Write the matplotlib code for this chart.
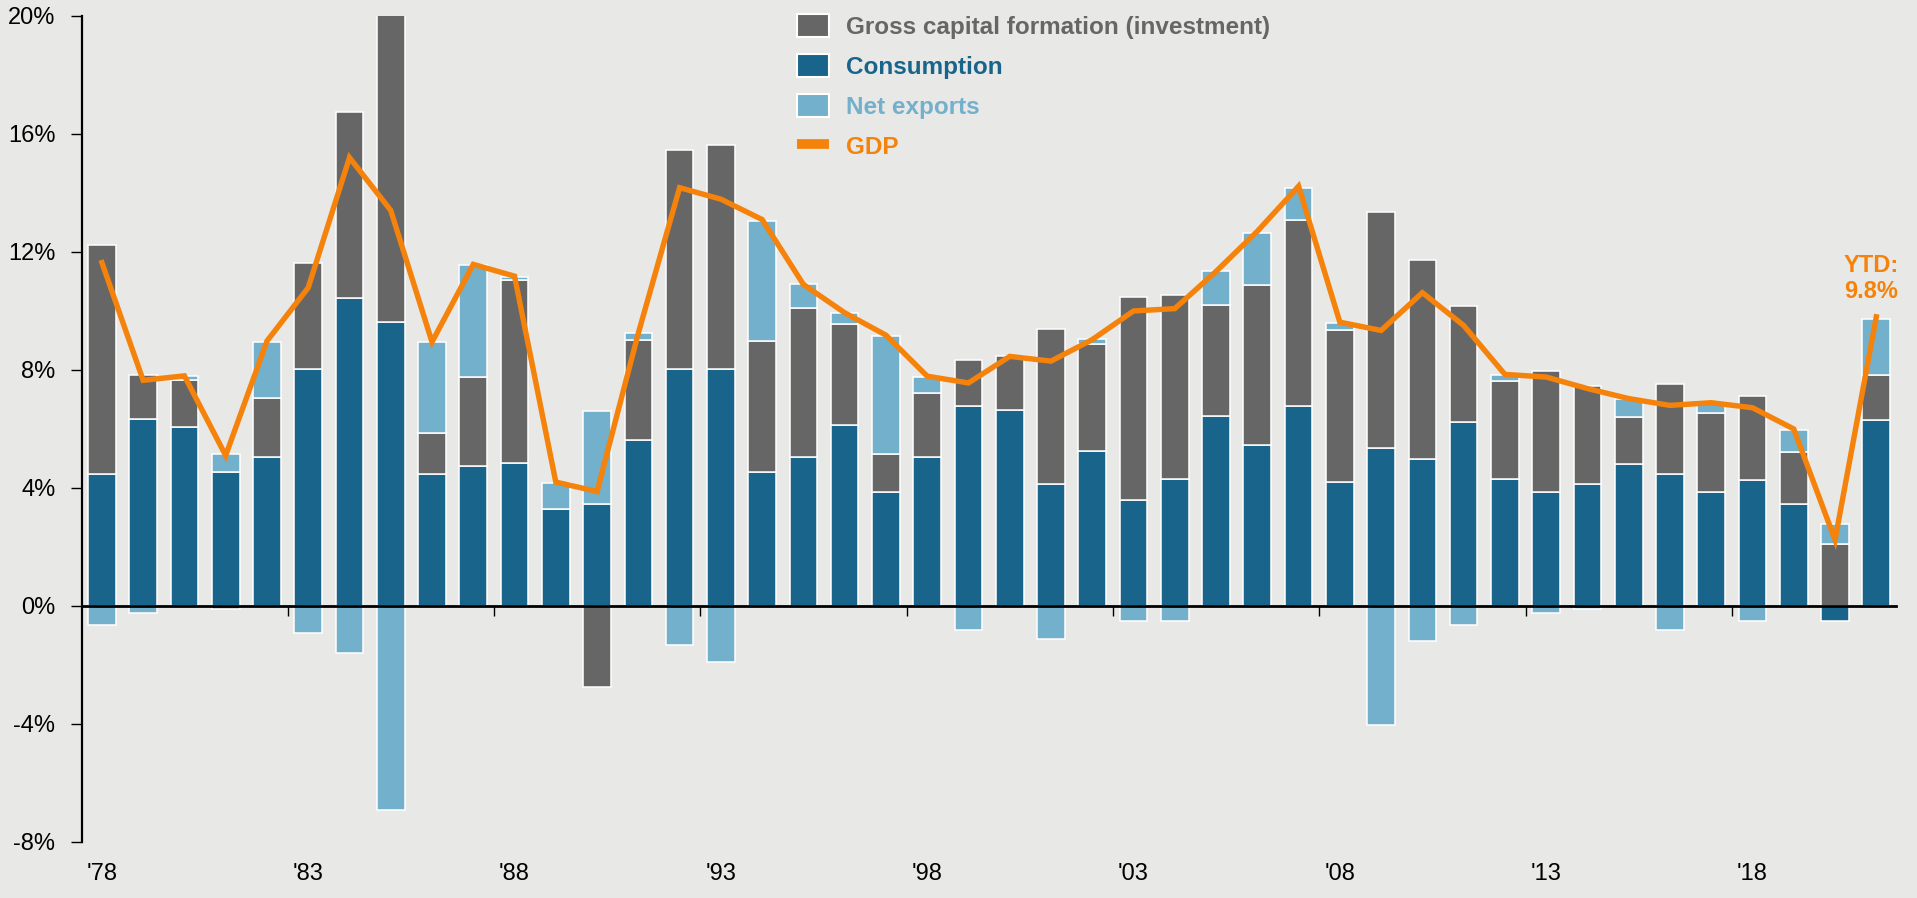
import matplotlib.pyplot as plt
import numpy as np
from matplotlib.patches import Patch
from matplotlib.lines import Line2D

years = list(range(1978, 2022))

# contributions to real GDP growth, percentage points
consumption = [4.46, 6.35, 6.07, 4.55, 5.06, 8.05, 10.45, 9.63, 4.46, 4.76,
               4.86, 3.28, 3.45, 5.64, 8.05, 8.05, 4.55, 5.06, 6.15, 3.85,
               5.04, 6.77, 6.63, 4.12, 5.25, 3.59, 4.29, 6.43, 5.44, 6.77,
               4.19, 5.36, 4.98, 6.24, 4.31, 3.85, 4.14, 4.81, 4.46, 3.85,
               4.26, 3.45, -0.51, 6.31]
investment = [7.77, 1.49, 1.58, -0.10, 2.00, 3.59, 6.30, 10.70, 1.40, 3.00,
              6.18, 0.00, -2.73, 3.39, 7.40, 7.59, 4.42, 5.04, 3.40, 1.30,
              2.19, 1.58, 1.83, 5.28, 3.64, 6.88, 6.26, 3.76, 5.44, 6.30,
              5.15, 8.01, 6.76, 3.92, 3.31, 4.12, 3.31, 1.60, 3.08, 2.70,
              2.86, 1.76, 2.10, 1.51]
net_exports = [-0.64, -0.23, 0.15, 0.60, 1.89, -0.90, -1.60, -6.92, 3.09, 3.79,
               0.11, 0.88, 3.15, 0.22, -1.32, -1.91, 4.08, 0.80, 0.39, 3.99,
               0.53, -0.81, -0.05, -1.13, 0.17, -0.51, -0.51, 1.15, 1.78, 1.10,
               0.25, -4.03, -1.18, -0.64, 0.20, -0.25, -0.10, 0.59, -0.81, 0.31,
               -0.51, 0.74, 0.67, 1.92]
gdp = [11.64, 7.65, 7.80, 5.10, 8.98, 10.79, 15.20, 13.41, 8.95, 11.58,
       11.18, 4.20, 3.88, 9.25, 14.18, 13.79, 13.10, 10.90, 9.94, 9.18,
       7.79, 7.56, 8.46, 8.30, 9.03, 10.00, 10.08, 11.34, 12.70, 14.23,
       9.62, 9.34, 10.62, 9.51, 7.85, 7.76, 7.37, 7.03, 6.80, 6.89,
       6.72, 6.00, 2.24, 9.80]

names = ['Consumption', 'Gross capital formation (investment)', 'Net exports']
colors = ['#19648a', '#666666', '#73b0cb']
orange = '#f5820a'
bg = '#e8e8e6'

plt.rcParams['font.family'] = ['Liberation Sans', 'DejaVu Sans']

fig = plt.figure(figsize=(19.17, 8.98), dpi=100, facecolor=bg)
ax = fig.add_axes([0.0426, 0.0624, 0.9465, 0.9198], facecolor=bg)

x = np.arange(len(years))
pos = np.zeros(len(years))
neg = np.zeros(len(years))
for vals, col in zip([consumption, investment, net_exports], colors):
    v = np.array(vals)
    bottom = np.where(v >= 0, pos, neg)
    ax.bar(x, v, bottom=bottom, width=0.67, color=col, edgecolor='white',
           linewidth=1.1, zorder=1)
    pos = pos + np.where(v >= 0, v, 0)
    neg = neg + np.where(v < 0, v, 0)

ax.plot(x, gdp, color=orange, lw=3.9, zorder=3, solid_joinstyle='miter')

ax.text(42.88, 11.1, 'YTD:\n9.8%', color=orange, fontsize=17, fontweight='bold',
        ha='center', va='center', linespacing=1.15)

ax.set_xlim(-0.49, 43.48)
ax.set_ylim(-8, 20)
ax.set_yticks(range(-8, 21, 4))
ax.set_yticklabels([f'{t}%' for t in range(-8, 21, 4)])
ax.tick_params(axis='y', labelsize=17, length=8, width=1, pad=11, colors='black')

ax.spines['top'].set_visible(False)
ax.spines['right'].set_visible(False)
ax.spines['left'].set_linewidth(1.6)
ax.spines['bottom'].set_position(('data', 0))
ax.spines['bottom'].set_linewidth(2)
ax.set_xticks(np.arange(4.5, 43, 5))
ax.tick_params(axis='x', length=7, width=1, labelbottom=False)

sec = ax.secondary_xaxis('bottom')
sec.set_xticks(x[::5])
sec.set_xticklabels(["'" + str(y)[2:] for y in years[::5]])
sec.tick_params(length=0, pad=15, labelsize=17)
sec.spines['bottom'].set_visible(False)

handles = [Patch(facecolor=colors[1], edgecolor='white', linewidth=1.5),
           Patch(facecolor=colors[0], edgecolor='white', linewidth=1.5),
           Patch(facecolor=colors[2], edgecolor='white', linewidth=1.5),
           Line2D([], [], color=orange, lw=7, solid_capstyle='butt')]
labels = [names[1], names[0], names[2], 'GDP']
leg = fig.legend(handles, labels, loc='upper left', bbox_to_anchor=(0.4158, 0.984),
                 frameon=False, fontsize=17.5, handlelength=1.3, handleheight=1.05,
                 handletextpad=0.72, labelspacing=0.63, borderpad=0, borderaxespad=0)
for t, c in zip(leg.get_texts(), [colors[1], colors[0], colors[2], orange]):
    t.set_color(c)
    t.set_fontweight('bold')

fig.savefig('out.png', dpi=100, facecolor=bg)
